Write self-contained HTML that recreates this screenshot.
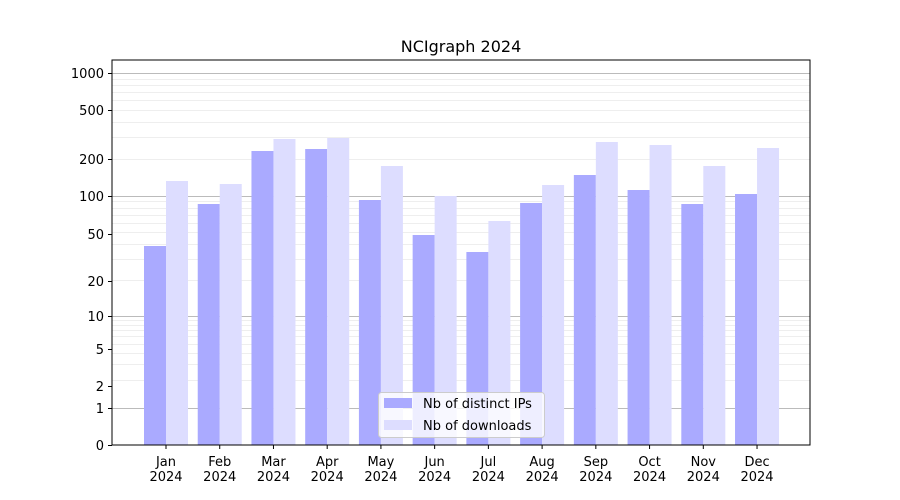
<!DOCTYPE html>
<html><head><meta charset="utf-8"><style>body{margin:0;background:#fff}svg{display:block}text{font-family:"DejaVu Sans","Liberation Sans",sans-serif;font-size:13px;fill:#000}</style></head><body>
<svg width="900" height="500" xmlns="http://www.w3.org/2000/svg">
<rect width="900" height="500" fill="#fff"/>
<g id="grid"></g>
<g id="bars"></g>
<rect x="112" y="60" width="698" height="385" fill="none" stroke="#000" stroke-width="1"/>
<g id="ticks"></g>
<text x="461" y="52" text-anchor="middle" style="font-size:16px">NCIgraph 2024</text>
<rect x="378.5" y="392.5" width="166" height="45" rx="3" fill="#fff" fill-opacity="0.8" stroke="#ccc"/>
<rect x="384" y="398" width="28" height="10" fill="#aaaaff"/>
<rect x="384" y="420" width="28" height="10" fill="#ddddff"/>
<text x="423" y="408">Nb of distinct IPs</text>
<text x="423" y="430">Nb of downloads</text>
<script>
var ns="http://www.w3.org/2000/svg";
function Y(v){if(v<=1)return 445-37*v;
if(v<=10)return 408-92*Math.log10(v);
if(v<=100)return 316-120*(Math.log10(v)-1);
return 196-123*(Math.log10(v)-2);}
function el(p,t,a){var e=document.createElementNS(ns,t);for(var k in a)e.setAttribute(k,a[k]);p.appendChild(e);return e;}
var g=document.getElementById('grid');
[2,3,4,5,6,7,8,9,20,30,40,50,60,70,80,90,200,300,400,500,600,700,800,900].forEach(function(v){var y=Math.round(Y(v))+.5;el(g,'line',{x1:112,x2:810,y1:y,y2:y,stroke:'#eee'});});
[1,10,100,1000].forEach(function(v){var y=Math.round(Y(v))+.5;el(g,'line',{x1:112,x2:810,y1:y,y2:y,stroke:'#bbb'});});
var b=document.getElementById('bars');
var ip=[246,204,151,149,200,235,252,203,175,190,204,194];
var dl=[181,184,139,138,166,196,221,185,142,145,166,148];
var m=['Jan','Feb','Mar','Apr','May','Jun','Jul','Aug','Sep','Oct','Nov','Dec'];
var t=document.getElementById('ticks');
for(var i=0;i<12;i++){var c=166+i*53.73;
el(b,'rect',{x:c-22,y:ip[i],width:22,height:445-ip[i],fill:'#aaaaff'});
el(b,'rect',{x:c,y:dl[i],width:22,height:445-dl[i],fill:'#ddddff'});
el(t,'line',{x1:c,x2:c,y1:445,y2:449,stroke:'#000'});
var tx=el(t,'text',{x:c,y:466,'text-anchor':'middle'});tx.textContent=m[i];
var ty=el(t,'text',{x:c,y:481,'text-anchor':'middle'});ty.textContent='2024';}
[[0,445],[1,408],[2,386],[5,349],[10,316],[20,281],[50,234],[100,196],[200,159],[500,110],[1000,73]].forEach(function(p){
el(t,'line',{x1:108,x2:112,y1:p[1]+.5,y2:p[1]+.5,stroke:'#000'});
var e=el(t,'text',{x:104,y:p[1]+5,'text-anchor':'end'});e.textContent=p[0];});
</script>
</svg></body></html>
